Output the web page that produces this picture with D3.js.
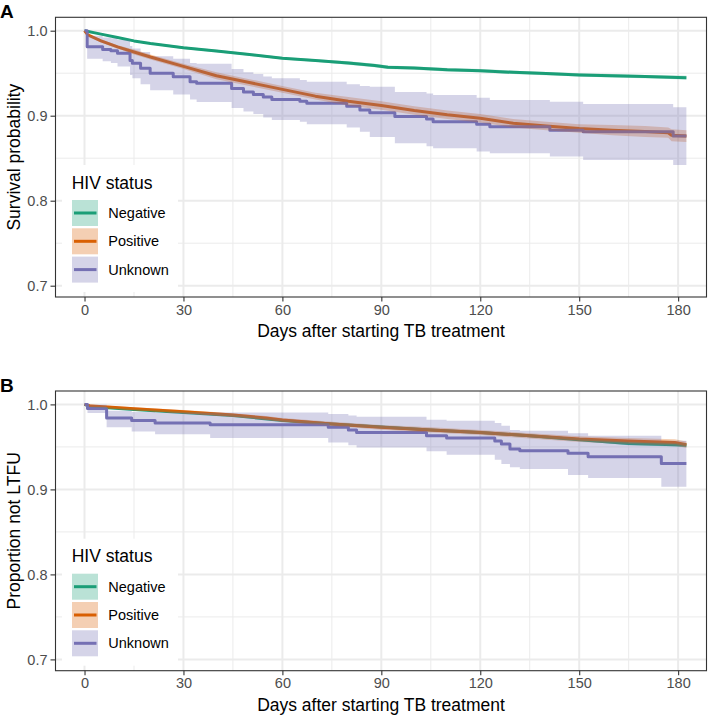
<!DOCTYPE html>
<html>
<head>
<meta charset="utf-8">
<script src="https://cdn.jsdelivr.net/npm/d3@7"></script>
<style>
  body { margin: 0; background: #fff; }
  text { font-family: "Liberation Sans", Arial, Helvetica, sans-serif; }
</style>
</head>
<body>
<svg id="chart" width="708" height="715"></svg>
<script>
// ---------------- DATA ----------------
const groups = ["Negative", "Positive", "Unknown"];
const colors = ["#1B9E77", "#D95F02", "#7570B3"];
const xTicks = [0, 30, 60, 90, 120, 150, 180];
const xMinor = [15, 45, 75, 105, 135, 165];
const yTicks = [0.7, 0.8, 0.9, 1.0];
const yMinor = [0.75, 0.85, 0.95];
const xTitle = "Days after starting TB treatment";
const legendTitle = "HIV status";

// Panel A: survival. Rows: [day, estimate, lower, upper]
const aNegative = [
  [0,1,1,1],[5,0.996,0.995,0.997],[10,0.992,0.991,0.993],[15,0.988,0.987,0.989],
  [20,0.985,0.984,0.986],[30,0.980,0.9785,0.9815],[40,0.976,0.9745,0.9775],
  [50,0.972,0.9705,0.9735],[60,0.9675,0.966,0.969],[70,0.965,0.9635,0.9665],
  [80,0.962,0.960,0.964],[88,0.959,0.957,0.961],[92,0.957,0.955,0.959],
  [100,0.956,0.954,0.958],[110,0.954,0.952,0.956],[120,0.953,0.951,0.955],
  [130,0.951,0.949,0.953],[140,0.9495,0.9475,0.9515],[150,0.948,0.946,0.950],
  [160,0.947,0.945,0.949],[170,0.946,0.944,0.948],[182.5,0.9447,0.9425,0.947]
];
const aPositive = [
  [0,1,1,1],[1,0.995,0.994,0.996],[5,0.988,0.986,0.990],[10,0.981,0.979,0.983],
  [15,0.975,0.972,0.978],[20,0.969,0.966,0.972],[30,0.958,0.955,0.961],
  [40,0.947,0.943,0.951],[50,0.939,0.935,0.943],[60,0.931,0.927,0.935],
  [70,0.923,0.919,0.927],[80,0.917,0.912,0.922],[90,0.912,0.907,0.917],
  [100,0.906,0.901,0.911],[110,0.901,0.896,0.906],[120,0.897,0.892,0.902],
  [130,0.891,0.886,0.896],[140,0.888,0.883,0.893],[150,0.885,0.880,0.890],
  [160,0.883,0.877,0.889],[170,0.8815,0.875,0.888],[177,0.880,0.874,0.886],
  [178,0.877,0.870,0.884],[182.5,0.876,0.869,0.883]
];
const aUnknown = [
  [0,1,1,1],[0.8,0.981,0.967,0.994],[5.5,0.978,0.964,0.992],[8,0.9765,0.962,0.991],
  [10,0.9734,0.958,0.989],[13.8,0.965,0.948,0.982],[14.5,0.9616,0.944,0.979],
  [17,0.9558,0.937,0.975],[19.9,0.9499,0.930,0.970],[26.9,0.9459,0.925,0.967],
  [32,0.940,0.919,0.962],[34,0.9381,0.916,0.961],[44.6,0.932,0.909,0.955],
  [48.2,0.928,0.905,0.951],[51.2,0.925,0.902,0.949],[54.2,0.922,0.898,0.946],
  [56.8,0.919,0.895,0.944],[65.3,0.917,0.893,0.942],[67.4,0.9146,0.890,0.940],
  [79.5,0.911,0.886,0.937],[83.5,0.9067,0.881,0.935],[86.5,0.9035,0.875,0.934],
  [94.1,0.899,0.8675,0.928],[103.7,0.896,0.864,0.926],[105.7,0.893,0.8616,0.9244],
  [118.9,0.890,0.858,0.921],[122.9,0.887,0.8558,0.9185],[141.1,0.883,0.852,0.9165],
  [151.2,0.881,0.848,0.9137],[178.5,0.876,0.842,0.910],[182.5,0.876,0.842,0.910]
];

// Panel B: not lost to follow-up. Rows: [day, estimate, lower, upper]
const bNegative = [
  [0,1,1,1],[2,0.997,0.9965,0.9975],[7,0.996,0.995,0.997],[15,0.994,0.993,0.995],
  [30,0.9905,0.9895,0.9915],[45,0.987,0.986,0.988],[60,0.981,0.980,0.982],
  [75,0.977,0.9758,0.9782],[90,0.9735,0.9722,0.9748],[105,0.970,0.9686,0.9714],
  [120,0.967,0.9655,0.9685],[135,0.963,0.9614,0.9646],[150,0.9585,0.9568,0.9602],
  [158,0.956,0.9542,0.9578],[165,0.954,0.952,0.956],[179,0.9525,0.9505,0.9545],
  [182.5,0.952,0.950,0.954]
];
const bPositive = [
  [0,1,1,1],[2,0.998,0.997,0.999],[7,0.997,0.9955,0.9985],[15,0.995,0.9935,0.9965],
  [30,0.9914,0.9895,0.9933],[45,0.9875,0.9853,0.9897],[55,0.984,0.9817,0.9863],
  [60,0.9816,0.9792,0.984],[75,0.977,0.9745,0.9795],[90,0.973,0.9703,0.9757],
  [105,0.970,0.967,0.973],[120,0.967,0.964,0.970],[135,0.963,0.9598,0.9662],
  [150,0.9592,0.9558,0.9626],[165,0.957,0.9535,0.9605],[179,0.9553,0.9515,0.9591],
  [182.5,0.9525,0.9487,0.9563]
];
const bUnknown = [
  [0,1,1,1],[0.9,0.9953,0.990,0.9995],[6.7,0.984,0.973,0.9926],[14.3,0.981,0.968,0.991],
  [21.4,0.978,0.965,0.9905],[38.1,0.9761,0.9605,0.9905],[73.9,0.973,0.9553,0.9887],
  [80,0.970,0.952,0.987],[82.5,0.967,0.9494,0.9855],[103.7,0.9632,0.945,0.982],
  [109.8,0.9605,0.9408,0.9808],[124.4,0.957,0.935,0.978],[126.4,0.9534,0.930,0.975],
  [129,0.9475,0.926,0.970],[132,0.9455,0.924,0.969],[146.6,0.9424,0.917,0.966],
  [152.7,0.9385,0.9134,0.9632],[174.9,0.9306,0.9032,0.9573],[182.5,0.9306,0.9032,0.9573]
];

const panels = [
  { tag: "A", yTitle: "Survival probability", series: [aNegative, aPositive, aUnknown], top: 17.3 },
  { tag: "B", yTitle: "Proportion not LTFU", series: [bNegative, bPositive, bUnknown], top: 391 }
];

// ---------------- DRAW ----------------
const svg = d3.select("#chart");
const W = 708, H = 715;
svg.append("rect").attr("width", W).attr("height", H).attr("fill", "#fff");

const left = 55.5, right = 706.5, panelH = 279.7;
const x = d3.scaleLinear().domain([-8.8, 188.6]).range([left, right]);
const stepped = [false, false, true];

panels.forEach((p, pi) => {
  const top = p.top, bottom = top + panelH;
  const y = d3.scaleLinear().domain([0.68671, 1.01576]).range([bottom, top]);
  const g = svg.append("g");

  // grid
  g.selectAll(".xminor").data(xMinor).join("line")
    .attr("x1", d => x(d)).attr("x2", d => x(d)).attr("y1", top).attr("y2", bottom)
    .attr("stroke", "#EBEBEB").attr("stroke-width", 1);
  g.selectAll(".yminor").data(yMinor).join("line")
    .attr("y1", d => y(d)).attr("y2", d => y(d)).attr("x1", left).attr("x2", right)
    .attr("stroke", "#EBEBEB").attr("stroke-width", 1);
  g.selectAll(".xmajor").data(xTicks).join("line")
    .attr("x1", d => x(d)).attr("x2", d => x(d)).attr("y1", top).attr("y2", bottom)
    .attr("stroke", "#EBEBEB").attr("stroke-width", 2);
  g.selectAll(".ymajor").data(yTicks).join("line")
    .attr("y1", d => y(d)).attr("y2", d => y(d)).attr("x1", left).attr("x2", right)
    .attr("stroke", "#EBEBEB").attr("stroke-width", 2);

  const clipId = "clip" + pi;
  svg.append("clipPath").attr("id", clipId).append("rect")
    .attr("x", left).attr("y", top).attr("width", right - left).attr("height", panelH);
  const plot = g.append("g").attr("clip-path", `url(#${clipId})`);

  // lines
  p.series.forEach((s, i) => {
    const line = d3.line().x(d => x(d[0])).y(d => y(d[1]))
      .curve(stepped[i] ? d3.curveStepAfter : d3.curveLinear);
    plot.append("path").datum(s).attr("d", line)
      .attr("fill", "none").attr("stroke", colors[i]).attr("stroke-width", 3)
      .attr("stroke-linejoin", "round");
  });
  // ribbons (drawn above lines)
  p.series.forEach((s, i) => {
    const area = d3.area().x(d => x(d[0])).y0(d => y(d[2])).y1(d => y(d[3]))
      .curve(stepped[i] ? d3.curveStepAfter : d3.curveLinear);
    plot.append("path").datum(s).attr("d", area)
      .attr("fill", colors[i]).attr("fill-opacity", 0.3).attr("stroke", "none");
  });

  // border
  g.append("rect").attr("x", left).attr("y", top).attr("width", right - left).attr("height", panelH)
    .attr("fill", "none").attr("stroke", "#333333").attr("stroke-width", 1.1);

  // axes
  const xAxis = d3.axisBottom(x).tickValues(xTicks).tickSize(4.5).tickPadding(3).tickFormat(d3.format("d"));
  const xg = g.append("g").attr("transform", `translate(0,${bottom})`).call(xAxis);
  const yAxis = d3.axisLeft(y).tickValues(yTicks).tickSize(5).tickPadding(3).tickFormat(d3.format(".1f"));
  const yg = g.append("g").attr("transform", `translate(${left},0)`).call(yAxis);
  [xg, yg].forEach(ax => {
    ax.select(".domain").remove();
    ax.selectAll(".tick line").attr("stroke", "#333333").attr("stroke-width", 1.1);
    ax.selectAll(".tick text").attr("fill", "#4D4D4D")
      .style("font-size", "14.5px").style("font-family", "'Liberation Sans', Arial, sans-serif");
  });

  // titles
  g.append("text").attr("x", (left + right) / 2).attr("y", bottom + 40)
    .attr("text-anchor", "middle").attr("fill", "#000").style("font-size", "17.5px").text(xTitle);
  g.append("text").attr("transform", `translate(20,${(top + bottom) / 2}) rotate(-90)`)
    .attr("text-anchor", "middle").attr("fill", "#000").style("font-size", "17.5px").text(p.yTitle);
  g.append("text").attr("x", 0).attr("y", top + 1).attr("fill", "#000")
    .style("font-size", "19px").style("font-weight", "bold").text(p.tag);

  // legend
  const off = top - 17.3;
  const lg = g.append("g");
  lg.append("rect").attr("x", 62).attr("y", 165 + off).attr("width", 116).attr("height", 127).attr("fill", "#fff");
  lg.append("text").attr("x", 71.7).attr("y", 188.5 + off).attr("fill", "#000")
    .style("font-size", "17.5px").text(legendTitle);
  groups.forEach((name, i) => {
    const ky = 200 + off + i * 28.3;
    lg.append("rect").attr("x", 72).attr("y", ky).attr("width", 26).attr("height", 26)
      .attr("fill", colors[i]).attr("fill-opacity", 0.3);
    lg.append("line").attr("x1", 74).attr("x2", 96.5).attr("y1", ky + 13).attr("y2", ky + 13)
      .attr("stroke", colors[i]).attr("stroke-width", 3);
    lg.append("text").attr("x", 108.3).attr("y", ky + 13).attr("dy", "0.35em").attr("fill", "#000")
      .style("font-size", "14.5px").text(name);
  });
});
</script>
</body>
</html>
